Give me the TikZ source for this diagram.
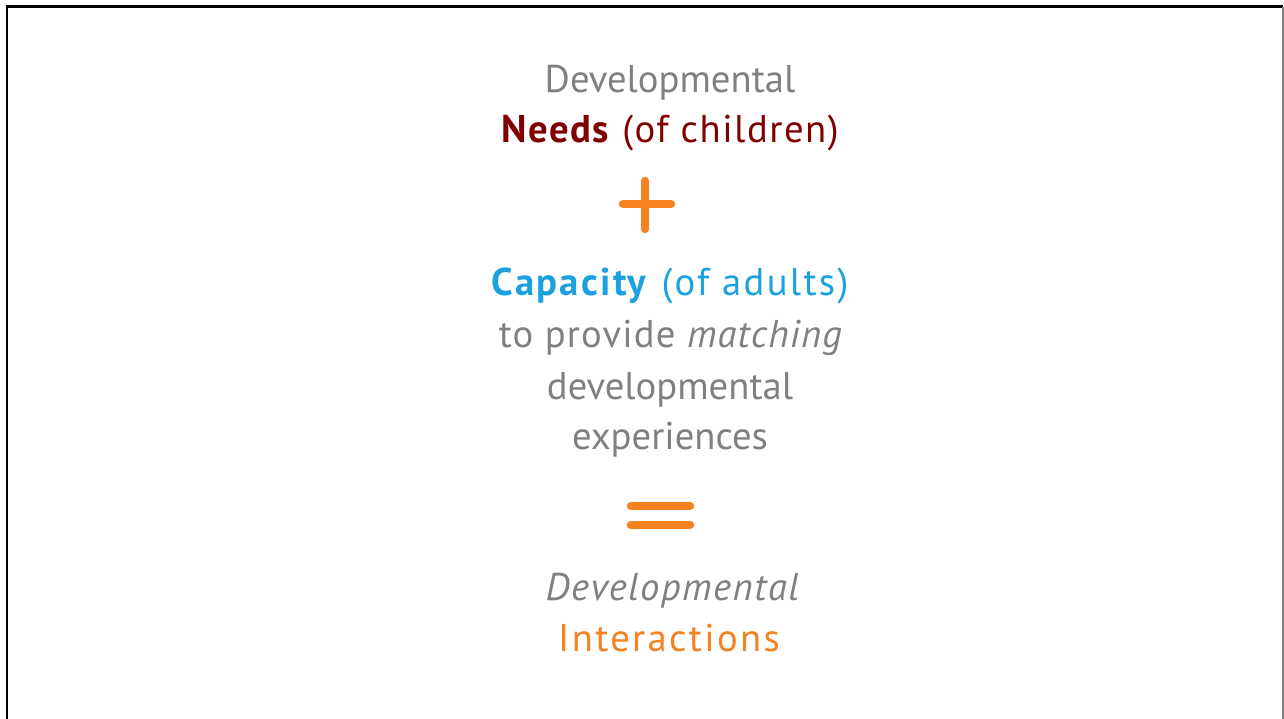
\documentclass[tikz,border=0pt]{standalone}
\usepackage{fontspec}
\setmainfont{PT Sans}
\definecolor{txtgray}{RGB}{128,128,128}
\definecolor{needred}{RGB}{128,0,0}
\definecolor{capblue}{RGB}{27,161,224}
\definecolor{signorange}{RGB}{245,130,32}
\newcommand{\spaced}[2]{{\addfontfeature{LetterSpace=#1}#2}}
\begin{document}
\begin{tikzpicture}[x=0.02cm,y=-0.02cm,
  line/.style={anchor=base,inner sep=0pt,font=\fontsize{22}{26}\selectfont},
  sign/.style={signorange,line width=0.17cm,line cap=round}]
\useasboundingbox (0,0) rectangle (1284,719);
% frame (open at the bottom)
\draw[line width=0.06cm] (7,720) -- (7,7) -- (1283,7);
\draw[gray,line width=0.03cm] (1283,7) -- (1283,720);

% children
\node[line,txtgray] (dev1) at (670,93) {Developmental};
\node[line,needred] (needs) at (670,143) {\spaced{4}{\textbf{Needs} (of children)}};

% plus
\draw[sign] (645,181) -- (645,229);
\draw[sign] (623,204) -- (671,204);

% adults
\node[line,capblue] (cap) at (670,296) {\spaced{6}{\textbf{Capacity} (of adults)}};
\node[line,txtgray] (prov) at (671,348) {\spaced{3}{to provide \textit{matching}}};
\node[line,txtgray] (dev2) at (670,399) {developmental};
\node[line,txtgray] (exp) at (670,449) {experiences};

% equals
\draw[sign] (631,506) -- (690,506);
\draw[sign] (631,525) -- (690,525);

% result
\node[line,txtgray] (dev3) at (673,600) {\spaced{4}{\textit{Developmental}}};
\node[line,signorange] (inter) at (669,651) {\spaced{6}{Interactions}};
\end{tikzpicture}
\end{document}
